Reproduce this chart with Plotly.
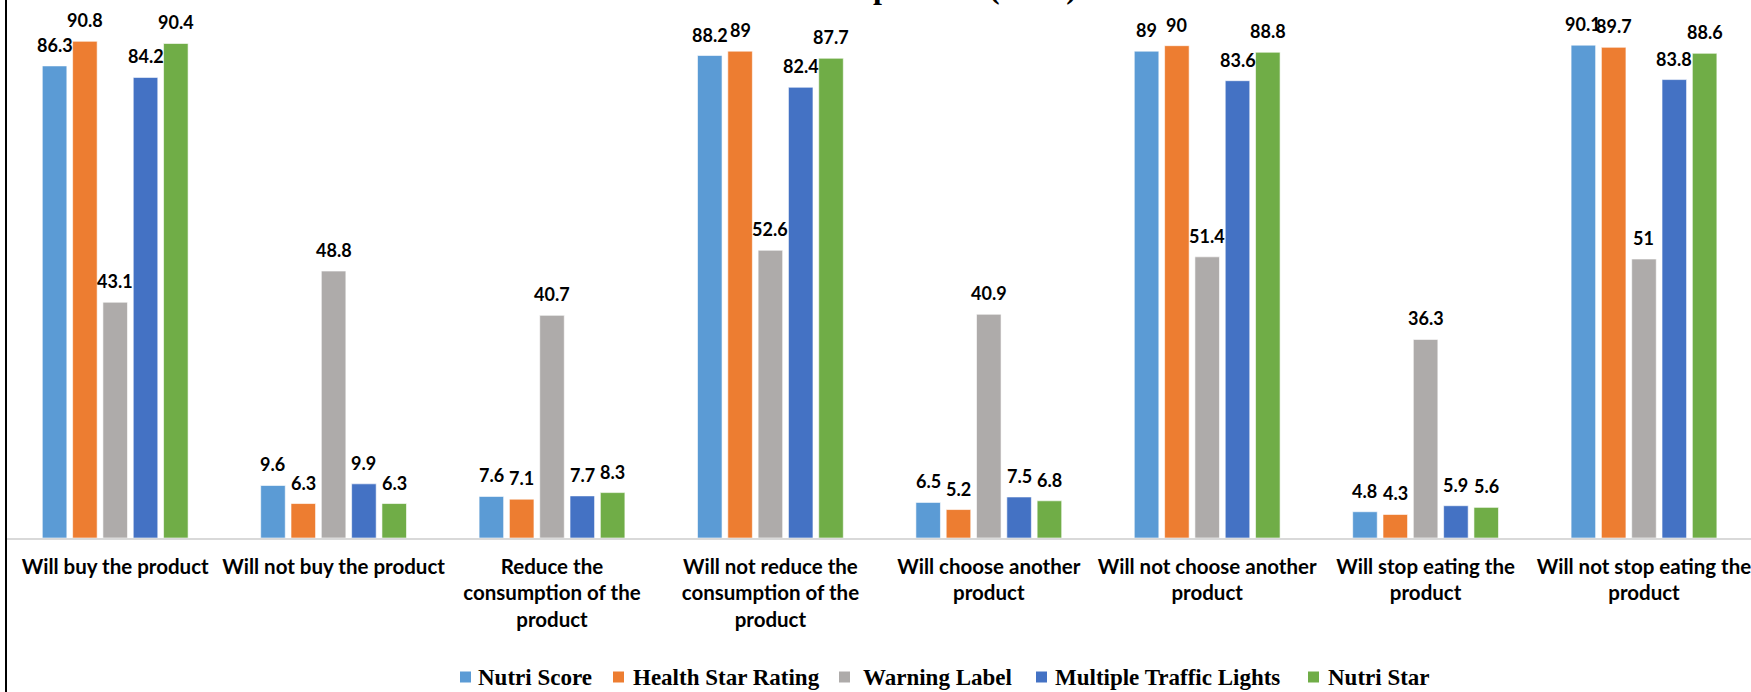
import plotly.graph_objects as go

# ---- data -------------------------------------------------------------
categories = [
    "Will buy the product",
    "Will not buy the product",
    "Reduce the consumption of the product",
    "Will not reduce the consumption of the product",
    "Will choose another product",
    "Will not choose another product",
    "Will stop eating the product",
    "Will not stop eating the product",
]
tick_labels = [
    "Will buy the product",
    "Will not buy the product",
    "Reduce the<br>consumption of the<br>product",
    "Will not reduce the<br>consumption of the<br>product",
    "Will choose another<br>product",
    "Will not choose another<br>product",
    "Will stop eating the<br>product",
    "Will not stop eating the<br>product",
]
series_names = ["Nutri Score", "Health Star Rating", "Warning Label",
                "Multiple Traffic Lights", "Nutri Star"]
nutri_score = [86.3, 9.6, 7.6, 88.2, 6.5, 89, 4.8, 90.1]
health_star_rating = [90.8, 6.3, 7.1, 89, 5.2, 90, 4.3, 89.7]
warning_label = [43.1, 48.8, 40.7, 52.6, 40.9, 51.4, 36.3, 51]
multiple_traffic_lights = [84.2, 9.9, 7.7, 82.4, 7.5, 83.6, 5.9, 83.8]
nutri_star = [90.4, 6.3, 8.3, 87.7, 6.8, 88.8, 5.6, 88.6]
series_values = [nutri_score, health_star_rating, warning_label,
                 multiple_traffic_lights, nutri_star]

# ---- styling ----------------------------------------------------------
colors = ["#5B9BD5", "#ED7D31", "#AEABAA", "#4472C4", "#70AD47"]
W, H = 1751, 692
ML, MB = 6, 154
plot_w = W - ML
plot_h = H - MB
BARGAP = 0.306
BARGROUPGAP = 0.19
Y_MAX = 98.35
LABEL_FONT = "Lato"


def px_x(px):
    return (px - ML) / plot_w


def px_y(py):
    return (plot_h - py) / plot_h


fig = go.Figure()
for name, vals, col in zip(series_names, series_values, colors):
    fig.add_trace(go.Bar(
        name=name, x=categories, y=vals,
        marker=dict(color=col, line=dict(color="rgba(255,255,255,0.6)", width=1)),
        showlegend=False,
    ))

# value labels above each bar
n = len(series_names)
slot = (1 - BARGAP) / n
annotations = []
for si, vals in enumerate(series_values):
    for ci, v in enumerate(vals):
        annotations.append(dict(
            x=ci + (si - (n - 1) / 2) * slot, y=v, xref="x", yref="y",
            text=f"{v:g}", showarrow=False, yanchor="middle", yshift=21,
            font=dict(family=LABEL_FONT, size=18, color="#000000", weight="bold"),
        ))

# last line of the title (its upper part runs past the top edge)
annotations.append(dict(
    x=px_x(975), y=1, xref="paper", yref="paper", xanchor="center",
    yanchor="bottom", yshift=-7, showarrow=False, text="product (in %)",
    font=dict(family="Liberation Serif", size=32, color="#000000", weight="bold"),
))

# legend row
legend_square_px = [460, 613, 839, 1036, 1308]
legend_text_px = [476, 631, 861, 1053, 1326]
legend_y_px = 677
sq = 11
shapes = []
for name, col, sx, tx in zip(series_names, colors, legend_square_px, legend_text_px):
    shapes.append(dict(
        type="rect", xref="paper", yref="paper",
        x0=px_x(sx), x1=px_x(sx + sq),
        y0=px_y(legend_y_px + sq / 2), y1=px_y(legend_y_px - sq / 2),
        fillcolor=col, line=dict(width=0),
    ))
    annotations.append(dict(
        x=px_x(tx), y=px_y(legend_y_px), xref="paper", yref="paper",
        xanchor="left", yanchor="middle", showarrow=False, text=name,
        font=dict(family="Liberation Serif", size=23, color="#000000", weight="bold"),
    ))

# left frame edge
shapes.append(dict(
    type="line", xref="paper", yref="paper", x0=0, x1=0,
    y0=px_y(H), y1=px_y(0), line=dict(color="#000000", width=2),
))

fig.update_layout(
    width=W, height=H,
    margin=dict(l=ML, r=0, t=0, b=MB, pad=0),
    paper_bgcolor="#FFFFFF", plot_bgcolor="#FFFFFF",
    barmode="group", bargap=BARGAP, bargroupgap=BARGROUPGAP,
    xaxis=dict(
        type="category", range=[-0.5, 7.49],
        tickmode="array", tickvals=categories, ticktext=tick_labels,
        showline=True, linecolor="#D9D9D9", linewidth=2,
        showgrid=False, zeroline=False, ticks="", ticklabelstandoff=9,
        tickfont=dict(family=LABEL_FONT, size=20.5, color="#000000", weight="bold"),
    ),
    yaxis=dict(range=[0, Y_MAX], visible=False, showgrid=False, zeroline=False),
    annotations=annotations, shapes=shapes,
    showlegend=False,
)

fig.write_html("out.html")
